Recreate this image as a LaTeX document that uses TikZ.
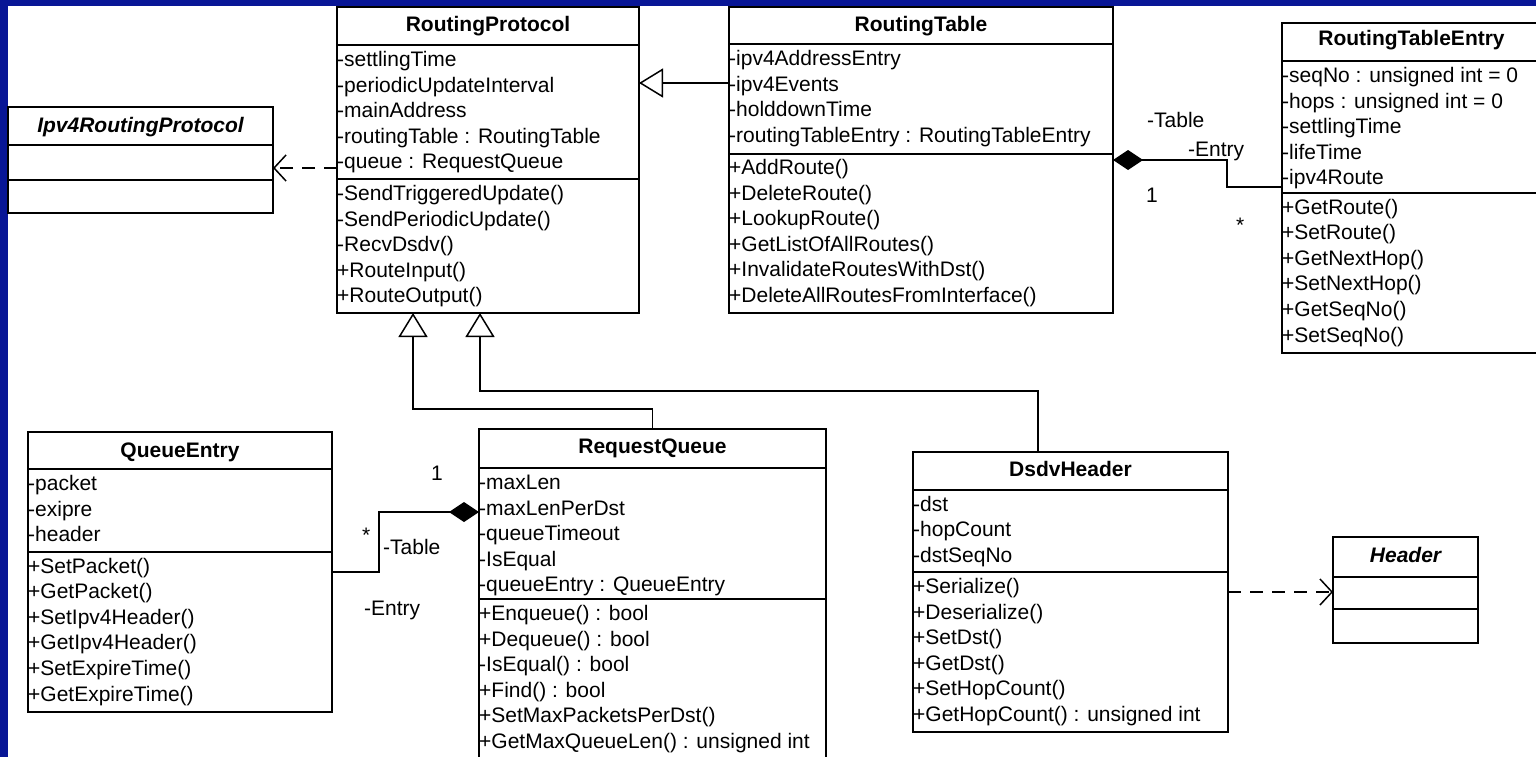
\documentclass[tikz,border=0pt]{standalone}
\usepackage{fontspec}
\setmainfont{Liberation Sans}
\usetikzlibrary{arrows.meta}
\definecolor{bgblue}{RGB}{8,22,150}
\begin{document}
\begin{tikzpicture}[x=1pt,y=-1pt,
  box/.style={draw, line width=1.5pt, fill=white, anchor=north west, inner sep=0pt, outer sep=0pt},
  divider/.style={line width=1.5pt},
  title/.style={anchor=base, inner sep=0pt, font=\fontsize{21}{25}\selectfont\bfseries},
  ititle/.style={title, font=\fontsize{21}{25}\selectfont\bfseries\itshape},
  memb/.style={anchor=base west, inner sep=0pt, font=\fontsize{21}{25}\selectfont},
  lab/.style={anchor=base west, inner sep=0pt, font=\fontsize{21}{25}\selectfont},
  gen/.style={draw, line width=1.5pt, -{Triangle[open, length=24pt, width=29pt]}},
  dep/.style={draw, line width=1.5pt, dash pattern=on 13pt off 9pt, -{Straight Barb[length=12pt, width=26pt]}},
  comp/.style={draw, line width=1.5pt, -{Diamond[length=30pt, width=20pt]}}
]
\useasboundingbox (0,0) rectangle (1536,757);
\fill[bgblue] (0,0) rectangle (1536,757);
\fill[white] (7.5,6) rectangle (1536,757);

% Ipv4RoutingProtocol
\node[box, minimum width=265pt, minimum height=106pt] (ipv4) at (8,107) {};
\draw[divider] (8,145) -- (273,145);
\draw[divider] (8,180) -- (273,180);
\node[ititle] (ipv4t) at ([yshift=-25pt]ipv4.north) {Ipv4RoutingProtocol};

% RoutingProtocol
\node[box, minimum width=302pt, minimum height=306pt] (rp) at (337,7) {};
\draw[divider] (337,45) -- (639,45);
\draw[divider] (337,179) -- (639,179);
\node[title] (rpt) at ([yshift=-24.5pt]rp.north) {RoutingProtocol};
\foreach \t [count=\i from 0] in {{-settlingTime},{-periodicUpdateInterval},{-mainAddress},{-routingTable : RoutingTable},{-queue : RequestQueue}}
  \node[memb] (rpa\i) at (337,66.5+\i*25.6) {\t};
\foreach \t [count=\i from 0] in {{-SendTriggeredUpdate()},{-SendPeriodicUpdate()},{-RecvDsdv()},{+RouteInput()},{+RouteOutput()}}
  \node[memb] (rpo\i) at (337,200.5+\i*25.6) {\t};

% RoutingTable
\node[box, minimum width=384pt, minimum height=306pt] (rt) at (729,7) {};
\draw[divider] (729,44) -- (1113,44);
\draw[divider] (729,154) -- (1113,154);
\node[title] (rtt) at ([yshift=-24.5pt]rt.north) {RoutingTable};
\foreach \t [count=\i from 0] in {{-ipv4AddressEntry},{-ipv4Events},{-holddownTime},{-routingTableEntry : RoutingTableEntry}}
  \node[memb] (rta\i) at (729,65.5+\i*25.6) {\t};
\foreach \t [count=\i from 0] in {{+AddRoute()},{+DeleteRoute()},{+LookupRoute()},{+GetListOfAllRoutes()},{+InvalidateRoutesWithDst()},{+DeleteAllRoutesFromInterface()}}
  \node[memb] (rto\i) at (729,174.5+\i*25.6) {\t};

% RoutingTableEntry
\node[box, minimum width=259pt, minimum height=330pt] (rte) at (1282,23) {};
\draw[divider] (1282,61) -- (1541,61);
\draw[divider] (1282,193) -- (1541,193);
\node[title] (rtet) at ([yshift=-23pt]rte.north) {RoutingTableEntry};
\foreach \t [count=\i from 0] in {{-seqNo : unsigned int = 0},{-hops : unsigned int = 0},{-settlingTime},{-lifeTime},{-ipv4Route}}
  \node[memb] (rtea\i) at (1282,82.5+\i*25.6) {\t};
\foreach \t [count=\i from 0] in {{+GetRoute()},{+SetRoute()},{+GetNextHop()},{+SetNextHop()},{+GetSeqNo()},{+SetSeqNo()}}
  \node[memb] (rteo\i) at (1282,214+\i*25.6) {\t};

% QueueEntry
\node[box, minimum width=304pt, minimum height=280pt] (qe) at (28,432) {};
\draw[divider] (28,469) -- (332,469);
\draw[divider] (28,552) -- (332,552);
\node[title] (qet) at ([yshift=-25pt]qe.north) {QueueEntry};
\foreach \t [count=\i from 0] in {{-packet},{-exipre},{-header}}
  \node[memb] (qea\i) at (28,490.5+\i*25.6) {\t};
\foreach \t [count=\i from 0] in {{+SetPacket()},{+GetPacket()},{+SetIpv4Header()},{+GetIpv4Header()},{+SetExpireTime()},{+GetExpireTime()}}
  \node[memb] (qeo\i) at (28,573+\i*25.6) {\t};

% RequestQueue
\node[box, minimum width=347pt, minimum height=340pt] (rq) at (479,429) {};
\draw[divider] (479,468) -- (826,468);
\draw[divider] (479,599) -- (826,599);
\node[title] (rqt) at ([yshift=-24.5pt]rq.north) {RequestQueue};
\foreach \t [count=\i from 0] in {{-maxLen},{-maxLenPerDst},{-queueTimeout},{-IsEqual},{-queueEntry : QueueEntry}}
  \node[memb] (rqa\i) at (479,489.5+\i*25.6) {\t};
\foreach \t [count=\i from 0] in {{+Enqueue() : bool},{+Dequeue() : bool},{-IsEqual() : bool},{+Find() : bool},{+SetMaxPacketsPerDst()},{+GetMaxQueueLen() : unsigned int}}
  \node[memb] (rqo\i) at (479,620.5+\i*25.6) {\t};

% DsdvHeader
\node[box, minimum width=315pt, minimum height=280pt] (dh) at (913,452) {};
\draw[divider] (913,490) -- (1228,490);
\draw[divider] (913,572) -- (1228,572);
\node[title] (dht) at ([yshift=-24.5pt]dh.north) {DsdvHeader};
\foreach \t [count=\i from 0] in {{-dst},{-hopCount},{-dstSeqNo}}
  \node[memb] (dha\i) at (913,511+\i*25.6) {\t};
\foreach \t [count=\i from 0] in {{+Serialize()},{+Deserialize()},{+SetDst()},{+GetDst()},{+SetHopCount()},{+GetHopCount() : unsigned int}}
  \node[memb] (dho\i) at (913,593.5+\i*25.6) {\t};

% Header
\node[box, minimum width=145pt, minimum height=106pt] (hd) at (1333,537) {};
\draw[divider] (1333,577) -- (1478,577);
\draw[divider] (1333,609) -- (1478,609);
\node[ititle] (hdt) at ([yshift=-25pt]hd.north) {Header};

% connectors
\draw[dep] ([yshift=-161pt]rp.north west) coordinate (d1s) -- (d1s -| ipv4.east);
\draw[gen] ([yshift=-76pt]rt.north west) coordinate (g0s) -- (g0s -| rp.east);
\draw[gen] (rq.north) -- ++(0,-20) -| ([xshift=-75pt]rp.south);
\draw[gen] ([xshift=-32.5pt]dh.north) -- ++(0,-61) -| ([xshift=-8pt]rp.south);
\draw[comp] ([yshift=-164pt]rte.north west) -- ++(-55,0) |- ([yshift=-153pt]rt.north east);
\draw[comp] ([yshift=-140pt]qe.north east) -- ++(47,0) |- ([yshift=-83pt]rq.north west);
\draw[dep] ([yshift=-140pt]dh.north east) coordinate (d2s) -- (d2s -| hd.west);

% multiplicities and roles
\node[lab] (rtrole) at (1147,128) {-Table};
\node[lab] (rterole) at (1188,157) {-Entry};
\node[lab] (rtm) at (1146,202) {1};
\node[lab] (rtem) at (1236,232) {*};
\node[lab] (rqm) at (431,480) {1};
\node[lab] (qem) at (362,542) {*};
\node[lab] (rqrole) at (383,554) {-Table};
\node[lab] (qerole) at (364,615) {-Entry};
\end{tikzpicture}
\end{document}
